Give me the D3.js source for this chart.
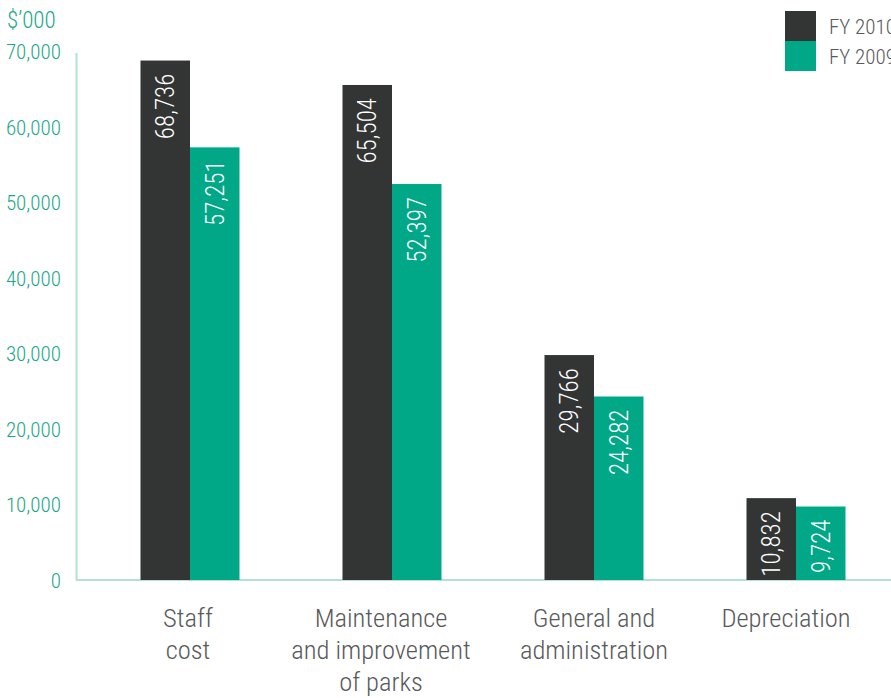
<!DOCTYPE html>
<html><head><meta charset="utf-8">
<script src="https://cdn.jsdelivr.net/npm/d3@7"></script>
<style>
html,body{margin:0;padding:0;background:#fff;overflow:hidden;}
text{font-family:"Roboto Condensed","Liberation Sans Narrow","Arial Narrow","DejaVu Sans Condensed",sans-serif;font-weight:300;}
</style></head><body>
<svg id="c" width="891" height="698"></svg>
<script>
const categories = [["Staff","cost"],["Maintenance","and improvement","of parks"],["General and","administration"],["Depreciation"]];
const categoryKeys = ["Staff cost","Maintenance and improvement of parks","General and administration","Depreciation"];
const series = ["FY 2010","FY 2009"];
const fy2010 = [68736, 65504, 29766, 10832];
const fy2009 = [57251, 52397, 24282, 9724];
const yTicks = [0,10000,20000,30000,40000,50000,60000,70000];
const unitLabel = "$\u2019000";
const colors = {"FY 2010":"#333434","FY 2009":"#00a887"};
const labelShift = [-2, -11, 0, -10]; // layout nudge of category labels

const svg = d3.select("#c");
const y = d3.scaleLinear().domain([0,70000]).range([580,51]);
const x0 = d3.scaleBand().domain(categoryKeys).range([89,897]).padding(0);
const x1 = d3.scaleBand().domain(series).range([-49.5,49.5]).padding(0);
const fmt = d3.format(",");

// axes lines
svg.append("line").attr("x1",76.5).attr("x2",76.5).attr("y1",53).attr("y2",580)
  .attr("stroke","#b3e2d4").attr("stroke-width",2);
svg.append("line").attr("x1",76).attr("x2",891).attr("y1",580).attr("y2",580)
  .attr("stroke","#b3e2d4").attr("stroke-width",2);

// y tick labels
const yAxis = d3.axisLeft(y).tickValues(yTicks).tickFormat(fmt).tickSize(0).tickPadding(0);
const ga = svg.append("g").attr("transform","translate(61,0)").call(yAxis);
ga.select(".domain").remove();
ga.attr("font-family",null).attr("font-size",null);
ga.selectAll("text").attr("fill","#1aa887").style("font-size","21px").attr("dy","0.36em");

svg.append("text").attr("x",7).attr("y",28).text(unitLabel)
  .attr("fill","#1aa887").style("font-size","23px");

// bars
const data = categoryKeys.map((k,i)=>({k, vals:[{s:"FY 2010",v:fy2010[i]},{s:"FY 2009",v:fy2009[i]}]}));
const g = svg.selectAll("g.grp").data(data).join("g").attr("class","grp")
  .attr("transform",d=>`translate(${x0(d.k)+x0.bandwidth()/2},0)`);
g.selectAll("rect").data(d=>d.vals).join("rect")
  .attr("x",d=>x1(d.s)).attr("width",x1.bandwidth())
  .attr("y",d=>y(d.v)).attr("height",d=>580-y(d.v))
  .attr("fill",d=>colors[d.s]);
g.selectAll("text.val").data(d=>d.vals).join("text").attr("class","val")
  .attr("transform",d=>`translate(${x1(d.s)+x1.bandwidth()/2},${y(d.v)+13}) rotate(-90)`)
  .attr("text-anchor","end").attr("dy","0.36em")
  .attr("fill","#fff").style("font-size","25px")
  .text(d=>fmt(d.v));

// category labels
const cl = svg.selectAll("text.cat").data(categories).join("text").attr("class","cat")
  .attr("x",(d,i)=>x0(categoryKeys[i])+x0.bandwidth()/2+labelShift[i])
  .attr("y",627).attr("text-anchor","middle")
  .attr("fill","#58595b").style("font-size","26.5px");
cl.selectAll("tspan").data(d=>d).join("tspan")
  .attr("x",function(){return d3.select(this.parentNode).attr("x");})
  .attr("dy",(d,i)=>i===0?0:32).text(d=>d);

// legend
const lg = svg.append("g");
series.forEach((s,i)=>{
  lg.append("rect").attr("x",785).attr("y",11+i*30).attr("width",31).attr("height",30).attr("fill",colors[s]);
  lg.append("text").attr("x",829).attr("y",26+i*30).attr("dy","0.36em").text(s)
    .attr("fill","#58595b").style("font-size","21px");
});
</script></body></html>
